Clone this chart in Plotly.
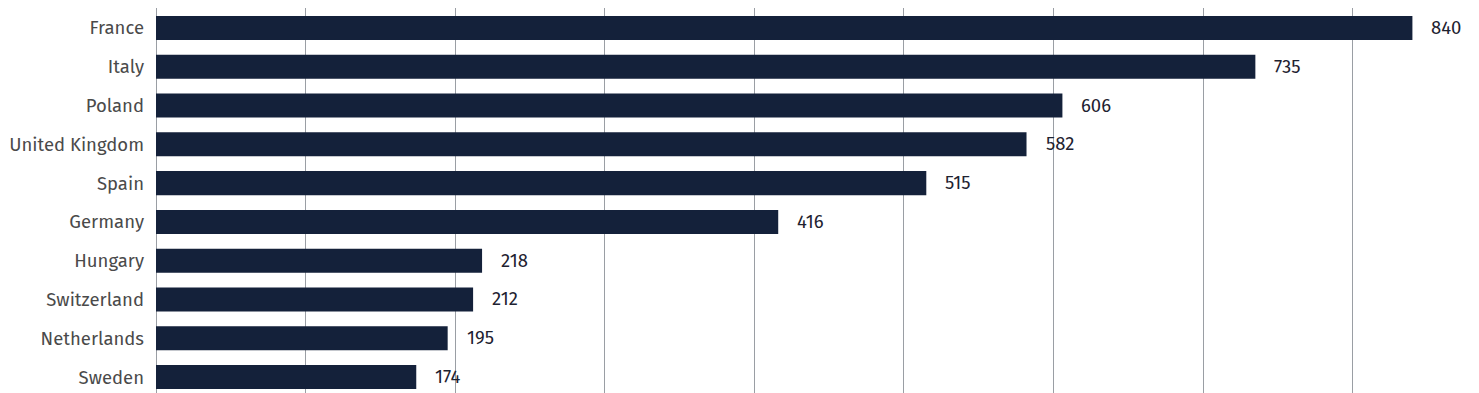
import plotly.graph_objects as go

countries = ["France", "Italy", "Poland", "United Kingdom", "Spain", "Germany",
             "Hungary", "Switzerland", "Netherlands", "Sweden"]
values = [840, 735, 606, 582, 515, 416, 218, 212, 195, 174]
grid_ticks = [0, 100, 200, 300, 400, 500, 600, 700, 800]

BAR = "#14213a"
FONT = "Fira Sans, Noto Sans, Open Sans, sans-serif"

fig = go.Figure()
fig.add_trace(go.Bar(
    x=values, y=countries, orientation="h",
    marker=dict(color=BAR, line=dict(width=0)),
    hoverinfo="skip",
))

for c, v in zip(countries, values):
    fig.add_annotation(x=v, y=c, text=str(v), showarrow=False,
                       xanchor="left", xshift=17,
                       font=dict(family=FONT, size=18.5, color="#1e2230"))

fig.update_layout(
    width=1471, height=385,
    margin=dict(l=148, r=9, t=0, b=0),
    paper_bgcolor="white", plot_bgcolor="white",
    bargap=0.38,
    showlegend=False,
    font=dict(family=FONT, size=18.5, color="#4a4a4a"),
    xaxis=dict(range=[0, 878.5], tickvals=grid_ticks, showticklabels=False,
               showgrid=True, gridcolor="#9a9ea4", gridwidth=1,
               zeroline=True, zerolinecolor="#9a9ea4", zerolinewidth=1,
               showline=False, fixedrange=True),
    yaxis=dict(type="category", categoryorder="array", categoryarray=countries,
               range=[9.412, -0.516], showgrid=False, zeroline=False,
               showline=False, ticks="", ticklabelstandoff=11,
               tickfont=dict(family=FONT, size=18.5, color="#4a4a4a")),
)

fig.write_html("out.html")
